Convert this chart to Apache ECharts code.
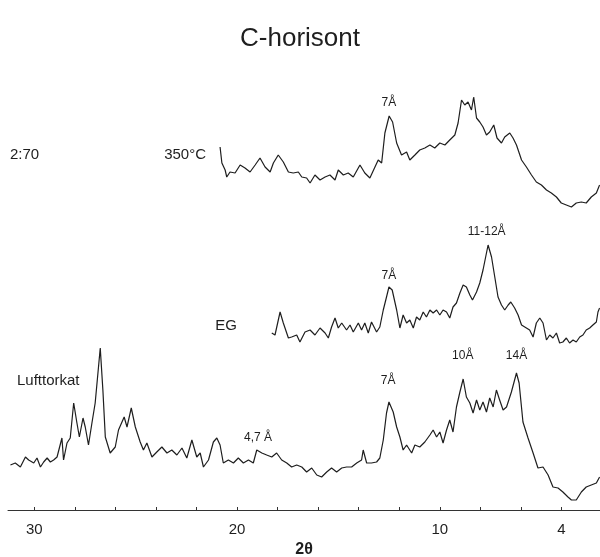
<!DOCTYPE html>
<html>
<head>
<meta charset="utf-8">
<title>C-horisont</title>
<script src="https://cdn.jsdelivr.net/npm/echarts@6/dist/echarts.min.js"></script>
<style>
  html,body{margin:0;padding:0;background:#fff;}
  #chart{width:600px;height:557px;}
</style>
</head>
<body>
<div id="chart"></div>
<script>
// 2θ axis, drawn reversed (30 on the left, 4 on the right)
var tickValues = [4, 6, 8, 10, 12, 14, 16, 18, 20, 22, 24, 26, 28, 30];
var tickLabels = [30, 20, 10, 4];

// scans as [2θ, intensity]; the three curves are offset vertically like in the figure
var airDried = [
  [31.18,45],[30.94,47],[30.69,43],[30.44,53],[30.28,50],[30.03,47],[29.87,52],[29.70,43],[29.54,48],[29.37,52],
  [29.21,48],[29.05,50],[28.88,53],[28.80,52],[28.64,72],[28.56,50],[28.39,67],[28.23,72],[28.06,107],[27.90,87],
  [27.78,73],[27.60,92],[27.49,83],[27.33,65],[27.16,87],[27.00,107],[26.75,162],[26.62,120],[26.50,73],[26.26,57],
  [26.01,63],[25.85,80],[25.57,93],[25.43,83],[25.22,102],[25.02,83],[24.78,68],[24.62,60],[24.45,67],[24.20,53],
  [23.96,58],[23.71,63],[23.46,57],[23.22,60],[22.97,55],[22.72,62],[22.48,52],[22.23,70],[21.99,53],[21.82,57],
  [21.66,43],[21.41,50],[21.17,68],[21.00,72],[20.84,65],[20.68,47],[20.43,50],[20.18,47],[19.94,52],[19.69,47],
  [19.44,50],[19.20,47],[19.03,60],[18.78,57],[18.54,55],[18.29,53],[18.05,57],[17.80,50],[17.55,47],[17.31,43],
  [17.06,45],[16.81,43],[16.57,38],[16.32,42],[16.07,35],[15.83,33],[15.58,38],[15.34,42],[15.09,38],[14.84,42],
  [14.60,43],[14.35,43],[14.10,47],[13.86,50],[13.78,60],[13.61,47],[13.37,47],[13.12,48],[12.96,52],[12.79,70],
  [12.63,97],[12.51,108],[12.30,98],[12.13,83],[11.97,73],[11.81,60],[11.64,65],[11.39,57],[11.23,65],[10.99,63],
  [10.74,68],[10.49,75],[10.33,80],[10.16,73],[10.00,78],[9.84,67],[9.67,80],[9.51,90],[9.35,78],[9.18,103],
  [9.01,118],[8.85,131],[8.69,113],[8.52,107],[8.36,97],[8.19,110],[8.03,100],[7.87,108],[7.70,98],[7.54,112],
  [7.37,103],[7.21,120],[7.05,110],[6.88,100],[6.71,103],[6.47,118],[6.22,137],[6.09,127],[5.90,88],[5.65,72],
  [5.40,57],[5.16,42],[4.91,43],[4.66,35],[4.42,23],[4.17,22],[3.93,18],[3.68,13],[3.51,10],[3.27,10],
  [3.02,18],[2.78,23],[2.53,25],[2.28,27],[2.12,33]
];

var glycolated = [
  [18.29,177],[18.13,175],[17.88,198],[17.72,187],[17.47,172],[17.31,173],[17.06,175],[16.90,168],[16.65,178],[16.40,180],
  [16.16,175],[15.91,182],[15.66,177],[15.50,172],[15.34,183],[15.17,192],[15.01,182],[14.84,187],[14.60,180],[14.43,185],
  [14.27,178],[14.02,187],[13.86,180],[13.70,187],[13.53,177],[13.37,188],[13.12,178],[12.96,183],[12.79,200],[12.63,213],
  [12.51,223],[12.35,220],[12.13,200],[11.97,182],[11.81,195],[11.64,187],[11.48,190],[11.31,182],[11.15,193],[10.99,190],
  [10.82,198],[10.66,193],[10.49,200],[10.33,197],[10.16,200],[10.00,195],[9.84,200],[9.67,198],[9.51,192],[9.35,203],
  [9.18,207],[9.01,217],[8.85,225],[8.69,223],[8.52,215],[8.39,210],[8.19,218],[8.03,227],[7.87,240],[7.74,253],
  [7.62,265],[7.45,253],[7.29,233],[7.13,213],[6.96,205],[6.80,200],[6.63,205],[6.50,208],[6.31,202],[6.14,195],
  [5.97,185],[5.73,182],[5.57,180],[5.40,173],[5.24,187],[5.07,192],[4.91,187],[4.74,170],[4.58,175],[4.42,172],
  [4.25,177],[4.09,167],[3.93,168],[3.76,172],[3.60,167],[3.43,170],[3.27,168],[3.10,173],[2.94,175],[2.78,180],
  [2.61,182],[2.45,185],[2.28,188],[2.20,198],[2.12,202]
];

var heated350 = [
  [20.84,363],[20.75,347],[20.59,340],[20.51,333],[20.35,338],[20.10,337],[19.85,345],[19.61,342],[19.36,338],[19.11,345],
  [18.87,352],[18.62,343],[18.37,338],[18.21,347],[17.97,355],[17.72,348],[17.47,338],[17.23,337],[16.98,338],[16.81,333],
  [16.57,332],[16.40,327],[16.16,335],[15.91,330],[15.66,333],[15.42,335],[15.17,330],[15.01,340],[14.76,335],[14.52,337],
  [14.27,333],[13.94,345],[13.70,337],[13.45,332],[13.20,343],[13.04,350],[12.87,347],[12.71,377],[12.50,394],[12.33,388],
  [12.13,367],[11.89,355],[11.64,358],[11.48,350],[11.23,355],[10.99,360],[10.74,362],[10.49,365],[10.25,362],[10.00,367],
  [9.75,365],[9.51,370],[9.26,375],[9.10,387],[8.93,410],[8.77,405],[8.61,408],[8.44,400],[8.33,413],[8.19,392],
  [8.03,388],[7.87,383],[7.70,375],[7.54,378],[7.34,385],[7.18,372],[6.96,367],[6.80,373],[6.55,377],[6.39,372],
  [6.22,365],[5.97,350],[5.73,343],[5.48,335],[5.24,328],[4.99,325],[4.74,320],[4.50,317],[4.25,313],[4.01,307],
  [3.76,305],[3.51,303],[3.27,307],[3.02,308],[2.78,307],[2.53,313],[2.28,317],[2.12,325]
];

// peak labels: [text, 2θ, height]
var heatedPeaks = [['7Å', 12.51, 407]];
var glycolPeaks = [['7Å', 12.51, 234], ['11-12Å', 7.69, 278]];
var airPeaks = [['7Å', 12.55, 129], ['10Å', 8.87, 154], ['14Å', 6.22, 154], ['4,7 Å', 18.97, 72]];

var FONT = '"Liberation Sans", Arial, sans-serif';
var INK = '#1e1e1e';

function peakMarks(list){
  return {
    symbol: 'circle',
    symbolSize: 0,
    silent: true,
    label: {
      show: true,
      position: 'inside',
      formatter: '{b}',
      color: INK,
      fontSize: 12,
      fontFamily: FONT
    },
    data: list.map(function(p){
      return {name: p[0], coord: [p[1], p[2]]};
    })
  };
}

function scanSeries(name, data, peaks){
  return {
    name: name,
    type: 'line',
    data: data,
    showSymbol: false,
    symbol: 'none',
    lineStyle: {color: INK, width: 1.2},
    markPoint: peakMarks(peaks),
    z: 3
  };
}

var chart = echarts.init(document.getElementById('chart'), null, {renderer: 'canvas'});

chart.setOption({
  animation: false,
  backgroundColor: '#fff',
  title: {
    text: 'C-horisont',
    left: 'center',
    top: 26,
    padding: 0,
    textStyle: {fontFamily: FONT, fontSize: 26, fontWeight: 'normal', color: INK}
  },
  // keep the plot area exactly where it is set, no auto fitting
  grid: {left: 8, right: 0, top: 30, bottom: 47, containLabel: false, outerBoundsMode: 'none'},
  xAxis: {
    type: 'value',
    inverse: true,
    min: 2.1,
    max: 31.3,
    name: '2θ',
    nameLocation: 'middle',
    nameGap: 30,
    nameTextStyle: {fontFamily: FONT, fontSize: 16, fontWeight: 'bold', color: INK},
    splitLine: {show: false},
    axisLine: {lineStyle: {color: '#333', width: 1}},
    axisTick: {show: true, inside: true, length: 3, customValues: tickValues, lineStyle: {color: '#333'}},
    axisLabel: {customValues: tickLabels, margin: 12, fontFamily: FONT, fontSize: 15, color: INK}
  },
  yAxis: {
    type: 'value',
    show: false,
    min: 0,
    max: 480
  },
  graphic: [
    {type: 'text', left: 10, top: 147, style: {text: '2:70', font: '15px ' + FONT, fill: INK}},
    {type: 'text', right: 394, top: 147, style: {text: '350°C', font: '15px ' + FONT, fill: INK}},
    {type: 'text', right: 363, top: 318, style: {text: 'EG', font: '15px ' + FONT, fill: INK}},
    {type: 'text', left: 17, top: 373, style: {text: 'Lufttorkat', font: '15px ' + FONT, fill: INK}}
  ],
  series: [
    scanSeries('350°C', heated350, heatedPeaks),
    scanSeries('EG', glycolated, glycolPeaks),
    scanSeries('Lufttorkat', airDried, airPeaks)
  ]
});
</script>
</body>
</html>
